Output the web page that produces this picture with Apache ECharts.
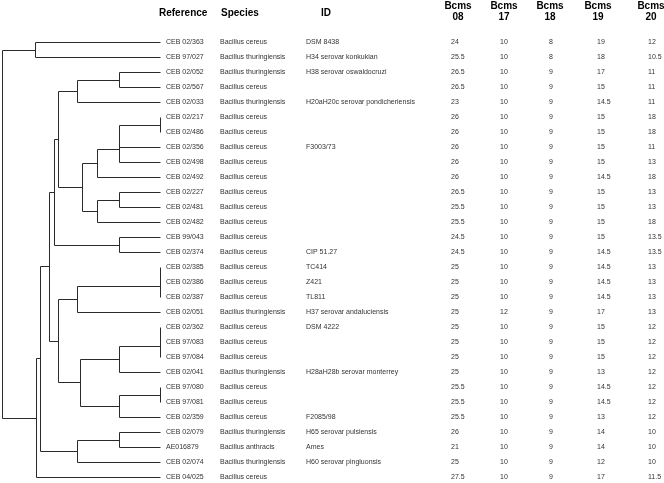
<!DOCTYPE html>
<html><head><meta charset="utf-8">
<script src="https://cdn.jsdelivr.net/npm/echarts@6/dist/echarts.min.js"></script>
<style>html,body{margin:0;padding:0;background:#fff}#c{width:664px;height:483px}</style>
</head><body><div id="c"></div>
<script>
const references = ['CEB 02/363','CEB 97/027','CEB 02/052','CEB 02/567','CEB 02/033','CEB 02/217','CEB 02/486','CEB 02/356','CEB 02/498','CEB 02/492','CEB 02/227','CEB 02/481','CEB 02/482','CEB 99/043','CEB 02/374','CEB 02/385','CEB 02/386','CEB 02/387','CEB 02/051','CEB 02/362','CEB 97/083','CEB 97/084','CEB 02/041','CEB 97/080','CEB 97/081','CEB 02/359','CEB 02/079','AE016879','CEB 02/074','CEB 04/025'];
const BC = 'Bacillus cereus', BT = 'Bacillus thuringiensis', BA = 'Bacillus anthracis';
const species = [BC,BT,BT,BC,BT,BC,BC,BC,BC,BC,BC,BC,BC,BC,BC,BC,BC,BC,BT,BC,BC,BC,BT,BC,BC,BC,BT,BA,BT,BC];
const ids = ['DSM 8438','H34 serovar konkukian','H38 serovar oswaldocruzi','','H20aH20c serovar pondicheriensis','','','F3003/73','','','','','','','CIP 51.27','TC414','Z421','TL811','H37 serovar andaluciensis','DSM 4222','','','H28aH28b serovar monterrey','','','F2085/98','H65 serovar pulsiensis','Ames','H60 serovar pingluonsis',''];
const bcms08 = [24,25.5,26.5,26.5,23,26,26,26,26,26,26.5,25.5,25.5,24.5,24.5,25,25,25,25,25,25,25,25,25.5,25.5,25.5,26,21,25,27.5];
const bcms17 = [10,10,10,10,10,10,10,10,10,10,10,10,10,10,10,10,10,10,12,10,10,10,10,10,10,10,10,10,10,10];
const bcms18 = [8,8,9,9,9,9,9,9,9,9,9,9,9,9,9,9,9,9,9,9,9,9,9,9,9,9,9,9,9,9];
const bcms19 = [19,18,17,15,14.5,15,15,15,15,14.5,15,15,15,15,14.5,14.5,14.5,14.5,17,15,15,15,13,14.5,14.5,13,14,14,12,17];
const bcms20 = [12,10.5,11,11,11,18,18,11,13,18,13,13,18,13.5,13.5,13,13,13,13,12,12,12,12,12,12,12,10,10,10,11.5];
const headerLabels = ['Reference','Species','ID'];
const bcmsHeaders = ['08','17','18','19','20'];
// dendrogram merges: [childA, childB, height]; number = leaf row, 'nK' = K-th merge
const merges = [
  [0,1,79.3],      // n0
  [2,3,26.1],      // n1
  ['n1',4,52.6],   // n2
  [5,6,0],         // n3
  ['n3',7,26.1],   // n4
  ['n4',8,26.1],   // n5
  [10,11,26.1],    // n6
  ['n6',12,39.6],  // n7
  ['n5',9,39.6],   // n8
  ['n8','n7',49.4],// n9
  ['n2','n9',64.5],// n10
  [13,14,26.1],    // n11
  ['n10','n11',67.3], // n12
  [15,16,0],       // n13
  ['n13',17,0],    // n14
  ['n14',18,52.6], // n15
  [19,20,0],       // n16
  ['n16',21,0],    // n17
  ['n17',22,26.1], // n18
  [23,24,0],       // n19
  ['n19',25,26.1], // n20
  ['n18','n20',50.5], // n21
  ['n15','n21',64.5], // n22
  ['n12','n22',70.0], // n23
  [26,27,26.1],    // n24
  ['n24',28,52.6], // n25
  ['n23','n25',75.7], // n26
  ['n26',29,78.2], // n27
  ['n0','n27',100] // n28
];

const nodeY = {}, nodeH = {};
const yOf = c => typeof c === 'number' ? c : nodeY[c];
const hOf = c => typeof c === 'number' ? 0 : nodeH[c];
const segments = [];
merges.forEach((m, i) => {
  const [a, b, h] = m;
  const ya = yOf(a), yb = yOf(b);
  segments.push([hOf(a), ya, h, ya]);
  segments.push([hOf(b), yb, h, yb]);
  segments.push([h, ya, h, yb]);
  nodeY['n' + i] = (ya + yb) / 2;
  nodeH['n' + i] = h;
});
// leaf stubs (leaf lines start at height 0)
const rows = references.map((r, i) => [0, i]);

const FONT = '"Liberation Sans", Arial, Helvetica, sans-serif';
const colX = {ref:166, sp:220, id:306, v:[451, 500, 549, 597, 648]};
const hdrX = {ref:159, sp:221, id:321, v:[458, 504, 550, 598, 651]};

const chart = echarts.init(document.getElementById('c'), null, {renderer:'canvas'});
const snap = v => Math.round(v) + 0.5;
const graphics = [
  {type:'text', x:hdrX.ref, y:13, style:{text:headerLabels[0], fill:'#000', font:'bold 10px ' + FONT, align:'left', verticalAlign:'middle'}},
  {type:'text', x:hdrX.sp, y:13, style:{text:headerLabels[1], fill:'#000', font:'bold 10px ' + FONT, align:'left', verticalAlign:'middle'}},
  {type:'text', x:hdrX.id, y:13, style:{text:headerLabels[2], fill:'#000', font:'bold 10px ' + FONT, align:'left', verticalAlign:'middle'}}
];
bcmsHeaders.forEach((h, k) => {
  graphics.push({type:'text', x:hdrX.v[k], y:6, style:{text:'Bcms', fill:'#000', font:'bold 10px ' + FONT, align:'center', verticalAlign:'middle'}});
  graphics.push({type:'text', x:hdrX.v[k], y:17, style:{text:h, fill:'#000', font:'bold 10px ' + FONT, align:'center', verticalAlign:'middle'}});
});

chart.setOption({
  animation:false,
  backgroundColor:'#fff',
  grid:{left:2, right:504, top:42, bottom:6},
  xAxis:{type:'value', min:0, max:100, inverse:true, show:false},
  yAxis:{type:'value', min:0, max:29, inverse:true, show:false},
  graphic:graphics,
  series:[
    {
      type:'custom', clip:false,
      data:segments,
      encode:{x:[0,2], y:[1,3]},
      renderItem:(params, api) => {
        const p1 = api.coord([api.value(0), api.value(1)]);
        const p2 = api.coord([api.value(2), api.value(3)]);
        return {type:'line', shape:{x1:snap(p1[0]), y1:snap(p1[1]), x2:snap(p2[0]), y2:snap(p2[1])},
          style:{stroke:'#2a2a2a', lineWidth:1}};
      }
    },
    {
      type:'custom', clip:false,
      data:rows,
      encode:{x:0, y:1},
      renderItem:(params, api) => {
        const i = params.dataIndex;
        const y = api.coord([0, api.value(1)])[1];
        const st = (t, x) => ({type:'text', x:x, y:y, style:{text:String(t), fill:'#333', font:'7px ' + FONT, align:'left', verticalAlign:'middle'}});
        const vals = [bcms08[i], bcms17[i], bcms18[i], bcms19[i], bcms20[i]];
        const children = [st(references[i], colX.ref), st(species[i], colX.sp), st(ids[i], colX.id)];
        vals.forEach((v, k) => children.push(st(v, colX.v[k])));
        return {type:'group', children:children};
      }
    }
  ]
});
</script></body></html>
